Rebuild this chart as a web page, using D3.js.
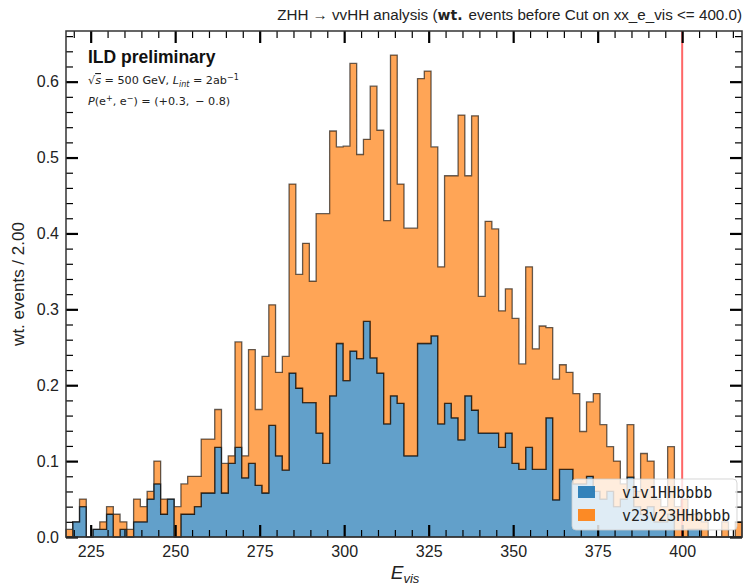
<!DOCTYPE html>
<html>
<head>
<meta charset="utf-8">
<script src="https://cdn.jsdelivr.net/npm/d3@7/dist/d3.min.js"></script>
<style>
body { margin: 0; background: #fff; }
svg { display: block; font-family: 'Liberation Sans', Arial, sans-serif; }
</style>
</head>
<body>
<script>
// histogram binning (bin width 2.00)
const binStart = 217.7;
const binWidth = 2;

// weighted events per bin, stacked bottom to top
const v1v1HHbbbb = [
    0.00, 0.02, 0.04, 0.00, 0.01, 0.01, 0.03, 0.00, 0.01, 0.00,
    0.02, 0.02, 0.05, 0.07, 0.03, 0.05, 0.00, 0.03, 0.03, 0.04,
    0.058, 0.058, 0.118, 0.058, 0.097, 0.118, 0.078, 0.097, 0.068, 0.058,
    0.147, 0.107, 0.088, 0.216, 0.196, 0.177, 0.177, 0.137, 0.097, 0.186,
    0.255, 0.206, 0.245, 0.235, 0.284, 0.236, 0.216, 0.149, 0.186, 0.176,
    0.107, 0.107, 0.255, 0.255, 0.265, 0.149, 0.176, 0.157, 0.128, 0.186,
    0.167, 0.137, 0.137, 0.137, 0.118, 0.137, 0.097, 0.089, 0.118, 0.089,
    0.089, 0.157, 0.049, 0.089, 0.089, 0.070, 0.070, 0.080, 0.060, 0.050,
    0.060, 0.040, 0.050, 0.079, 0.040, 0.030, 0.040, 0.020, 0.020, 0.030,
    0.00, 0.00, 0.01, 0.01, 0.00, 0.00, 0.00, 0.00, 0.00, 0.00
];
const v23v23HHbbbb = [
    0.01, 0.00, 0.01, 0.00, 0.00, 0.01, 0.01, 0.03, 0.01, 0.01,
    0.03, 0.02, 0.01, 0.03, 0.02, 0.00, 0.04, 0.04, 0.05, 0.04,
    0.071, 0.071, 0.050, 0.039, 0.010, 0.139, 0.029, 0.150, 0.100, 0.180,
    0.159, 0.110, 0.150, 0.249, 0.150, 0.210, 0.160, 0.289, 0.329, 0.349,
    0.259, 0.309, 0.379, 0.269, 0.240, 0.358, 0.320, 0.268, 0.449, 0.289,
    0.300, 0.300, 0.349, 0.359, 0.249, 0.207, 0.300, 0.319, 0.428, 0.290,
    0.388, 0.180, 0.279, 0.269, 0.180, 0.190, 0.191, 0.139, 0.238, 0.159,
    0.189, 0.119, 0.159, 0.138, 0.128, 0.119, 0.069, 0.098, 0.129, 0.098,
    0.059, 0.060, 0.020, 0.069, 0.020, 0.080, 0.060, 0.030, 0.020, 0.089,
    0.04, 0.05, 0.02, 0.02, 0.02, 0.00, 0.00, 0.02, 0.00, 0.02
];

const seriesNames = ['v1v1HHbbbb', 'v23v23HHbbbb'];
const seriesColors = ['#1f77b4', '#ff7f0e'];
const xTicks = [225, 250, 275, 300, 325, 350, 375, 400];
const yTicks = [0.0, 0.1, 0.2, 0.3, 0.4, 0.5, 0.6];
const cutValue = 400;

class StackedHist {
    #width
    #height
    #margins
    #svg
    #x
    #y
    #table

    constructor(w, h) {
        this.#width = w;
        this.#height = h;
        this.#margins = { top: 31, left: 66, right: 6, bottom: 48 };
    }

    get innerW() { return this.#width - this.#margins.left - this.#margins.right; }
    get innerH() { return this.#height - this.#margins.top - this.#margins.bottom; }

    buildTable() {
        this.#table = v1v1HHbbbb.map((v, i) => ({
            lo: binStart + i * binWidth,
            v1v1HHbbbb: v,
            v23v23HHbbbb: v23v23HHbbbb[i]
        }));
        const n = this.#table.length;
        const total = this.#table.map(d => d.v1v1HHbbbb + d.v23v23HHbbbb);
        this.#x = d3.scaleLinear()
            .domain([binStart, binStart + n * binWidth])
            .range([this.#margins.left, this.#margins.left + this.innerW]);
        this.#y = d3.scaleLinear()
            .domain([0, d3.max(total) * 1.05])
            .range([this.#margins.top + this.innerH, this.#margins.top]);
    }

    renderBars(g) {
        const stack = d3.stack().keys(seriesNames);
        const layers = stack(this.#table);
        const area = d3.area()
            .curve(d3.curveStepAfter)
            .x(p => this.#x(p.xv))
            .y0(p => this.#y(p.y0))
            .y1(p => this.#y(p.y1));
        layers.forEach((layer, k) => {
            const pts = layer.map(s => ({ xv: s.data.lo, y0: s[0], y1: s[1] }));
            const last = layer[layer.length - 1];
            pts.push({ xv: last.data.lo + binWidth, y0: last[0], y1: last[1] });
            g.append('path')
                .attr('d', area(pts))
                .attr('fill', seriesColors[k])
                .attr('fill-opacity', 0.7)
                .attr('stroke', '#000')
                .attr('stroke-opacity', 0.6)
                .attr('stroke-width', 1.3);
        });
    }

    renderAxes() {
        const x = this.#x, y = this.#y, m = this.#margins;
        const bottom = m.top + this.innerH, right = m.left + this.innerW;
        const [x0, x1] = x.domain();
        const [, y1] = y.domain();
        const xMinor = d3.range(Math.ceil(x0 / 5) * 5, x1, 5).filter(v => v % 25 !== 0);
        const yMinor = d3.range(0, y1, 0.02).filter(v => Math.abs(v * 10 - Math.round(v * 10)) > 1e-6);

        const style = (sel, w) => {
            sel.select('.domain').remove();
            sel.selectAll('.tick line').attr('stroke', '#000').attr('stroke-width', w);
            sel.selectAll('.tick text')
                .attr('fill', '#222')
                .style('font-size', '16px')
                .style('font-family', "'Liberation Sans', Arial, sans-serif");
        };

        // major ticks with labels
        this.#svg.append('g').attr('transform', `translate(0,${bottom})`)
            .call(d3.axisBottom(x).tickValues(xTicks).tickSize(-12).tickPadding(9).tickFormat(d3.format('d')))
            .call(s => style(s, 2.2));
        this.#svg.append('g').attr('transform', `translate(${m.left},0)`)
            .call(d3.axisLeft(y).tickValues(yTicks).tickSize(-12).tickPadding(7).tickFormat(d3.format('.1f')))
            .call(s => style(s, 2.2));
        this.#svg.append('g').attr('transform', `translate(0,${m.top})`)
            .call(d3.axisTop(x).tickValues(xTicks).tickSize(-12).tickFormat(''))
            .call(s => style(s, 2.2));
        this.#svg.append('g').attr('transform', `translate(${right},0)`)
            .call(d3.axisRight(y).tickValues(yTicks).tickSize(-12).tickFormat(''))
            .call(s => style(s, 2.2));

        // minor ticks
        this.#svg.append('g').attr('transform', `translate(0,${bottom})`)
            .call(d3.axisBottom(x).tickValues(xMinor).tickSize(-7).tickFormat(''))
            .call(s => style(s, 1.2));
        this.#svg.append('g').attr('transform', `translate(0,${m.top})`)
            .call(d3.axisTop(x).tickValues(xMinor).tickSize(-7).tickFormat(''))
            .call(s => style(s, 1.2));
        this.#svg.append('g').attr('transform', `translate(${m.left},0)`)
            .call(d3.axisLeft(y).tickValues(yMinor).tickSize(-7).tickFormat(''))
            .call(s => style(s, 1.2));
        this.#svg.append('g').attr('transform', `translate(${right},0)`)
            .call(d3.axisRight(y).tickValues(yMinor).tickSize(-7).tickFormat(''))
            .call(s => style(s, 1.2));

        this.#svg.append('rect')
            .attr('x', m.left).attr('y', m.top)
            .attr('width', this.innerW).attr('height', this.innerH)
            .attr('fill', 'none').attr('stroke', '#333').attr('stroke-width', 1.5);

        // axis titles
        const xt = this.#svg.append('text')
            .attr('x', 405).attr('y', 579)
            .attr('text-anchor', 'middle')
            .style('font-size', '19px').style('font-style', 'italic').attr('fill', '#222');
        xt.append('tspan').text('E');
        xt.append('tspan').attr('dy', 4).style('font-size', '13px').text('vis');

        this.#svg.append('text')
            .attr('transform', `translate(24,${m.top + this.innerH / 2}) rotate(-90)`)
            .attr('text-anchor', 'middle')
            .style('font-size', '17px').attr('fill', '#222')
            .text('wt. events / 2.00');
    }

    renderCut() {
        this.#svg.append('line')
            .attr('x1', this.#x(cutValue)).attr('x2', this.#x(cutValue))
            .attr('y1', this.#margins.top).attr('y2', this.#margins.top + this.innerH)
            .attr('stroke', 'red').attr('stroke-opacity', 0.6).attr('stroke-width', 2);
    }

    renderLabels() {
        const m = this.#margins;
        const title = this.#svg.append('text')
            .attr('x', m.left + this.innerW).attr('y', 20)
            .attr('text-anchor', 'end')
            .style('font-size', '15.2px').attr('fill', '#222');
        title.append('tspan').text('ZHH \u2192 vvHH analysis (');
        title.append('tspan').style('font-weight', 'bold').style('font-family', "'DejaVu Sans', sans-serif")
            .style('font-size', '14px').text('wt.');
        title.append('tspan').attr('dx', 6).text('events before Cut on xx_e_vis <= 400.0)');

        const tx = m.left + 22;
        this.#svg.append('text')
            .attr('x', tx).attr('y', 63)
            .style('font-size', '17.5px').style('font-weight', 'bold').attr('fill', '#111')
            .text('ILD preliminary');

        const l2 = this.#svg.append('text')
            .attr('x', tx).attr('y', 84)
            .style('font-family', "'DejaVu Sans', sans-serif").style('font-size', '11.2px').attr('fill', '#222');
        l2.append('tspan').text('\u221A');
        l2.append('tspan').style('text-decoration', 'overline').style('font-style', 'italic').text('s');
        l2.append('tspan').text(' = 500 GeV, ');
        l2.append('tspan').style('font-style', 'italic').text('L');
        l2.append('tspan').attr('dy', 2.5).style('font-size', '8px').style('font-style', 'italic').text('int');
        l2.append('tspan').attr('dy', -2.5).text(' = 2ab');
        l2.append('tspan').attr('dy', -4).style('font-size', '8px').text('\u22121');

        const l3 = this.#svg.append('text')
            .attr('x', tx).attr('y', 105)
            .style('font-family', "'DejaVu Sans', sans-serif").style('font-size', '11.2px').attr('fill', '#222');
        l3.append('tspan').style('font-style', 'italic').text('P');
        l3.append('tspan').text('(e');
        l3.append('tspan').attr('dy', -4).style('font-size', '8px').text('+');
        l3.append('tspan').attr('dy', 4).text(', e');
        l3.append('tspan').attr('dy', -4).style('font-size', '8px').text('\u2212');
        l3.append('tspan').attr('dy', 4).text(') = (+0.3, \u2009\u2212 0.8)');
    }

    renderLegend() {
        const lg = this.#svg.append('g').attr('transform', 'translate(572,479)');
        lg.append('rect')
            .attr('width', 165).attr('height', 51).attr('rx', 4)
            .attr('fill', '#fff').attr('fill-opacity', 0.8)
            .attr('stroke', '#ccc').attr('stroke-opacity', 0.8);
        seriesNames.forEach((name, k) => {
            const row = lg.append('g').attr('transform', `translate(6,${7 + k * 23})`);
            row.append('rect').attr('width', 17).attr('height', 12)
                .attr('fill', seriesColors[k]).attr('fill-opacity', 0.9);
            row.append('text').attr('x', 44).attr('y', 11.5)
                .style('font-family', "'DejaVu Sans Mono', monospace").style('font-size', '15px')
                .attr('fill', '#222').text(name);
        });
    }

    render() {
        this.#svg = d3.select('body').append('svg')
            .attr('width', this.#width)
            .attr('height', this.#height);
        this.buildTable();
        this.renderBars(this.#svg.append('g'));
        this.renderCut();
        this.renderAxes();
        this.renderLabels();
        this.renderLegend();
    }
}

const h = new StackedHist(748, 585);
h.render();
</script>
</body>
</html>
